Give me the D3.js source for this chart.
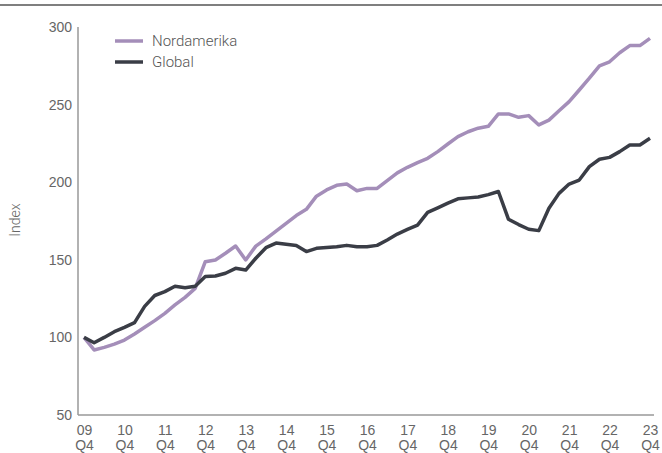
<!DOCTYPE html>
<html>
<head>
<meta charset="utf-8">
<script src="https://cdn.jsdelivr.net/npm/d3@7"></script>
<style>
  body { margin: 0; background: #fff; }
  svg { display: block; font-family: Roboto, "Noto Sans", sans-serif; }
  .axis text { fill: #666; font-size: 14px; font-weight: 300; }
  .axis path { stroke: #999; stroke-width: 1.5; }
</style>
</head>
<body>
<div id="chart"></div>
<script>
// quarterly index, 2009 Q4 = 100
var years = ["09","10","11","12","13","14","15","16","17","18","19","20","21","22","23"];
var yTicks = [50, 100, 150, 200, 250, 300];

var nordamerika = [100, 91.9, 93.6, 95.7, 98.3, 102.2, 106.5, 110.8, 115.5, 120.9,
  125.8, 131.6, 148.8, 149.9, 154.2, 158.9, 149.9, 158.8, 163.5, 168.5,
  173.5, 178.5, 182.5, 191, 195, 198, 198.8, 194.5, 196, 196,
  201, 206, 209.6, 212.6, 215.4, 219.7, 224.6, 229.4, 232.5, 234.8,
  236, 244, 244, 241.8, 242.9, 236.9, 240, 246, 251.9, 259.4,
  267, 275, 277.6, 283.4, 288, 288, 292.7];

var global = [100, 96.6, 100, 103.7, 106.5, 109.5, 120, 127, 129.5, 133,
  132, 133, 139.2, 139.6, 141.3, 144.5, 143.4, 151, 157.8, 160.8,
  160, 159.2, 155.3, 157.4, 158, 158.4, 159.3, 158.4, 158.4, 159.3,
  162.8, 166.6, 169.6, 172.4, 180.5, 183.5, 186.5, 189.3, 189.9, 190.5,
  192, 194, 176.1, 172.7, 169.7, 168.8, 183.2, 192.8, 198.8, 201.4,
  210, 214.8, 216, 219.7, 224, 224, 228.3];

var series = [
  {name: "Nordamerika", values: nordamerika, color: "#a48eb9"},
  {name: "Global", values: global, color: "#3a3d46"}
];

var width = 662, height = 453;

var svg = d3.select("#chart").append("svg")
  .attr("width", width)
  .attr("height", height);

// top rule
svg.append("line")
  .attr("x1", 0).attr("x2", width)
  .attr("y1", 5).attr("y2", 5)
  .style("stroke", "#555")
  .style("stroke-width", 1.5);

var x = d3.scaleLinear().domain([0, nordamerika.length - 1]).range([84, 650]);
var y = d3.scaleLinear().domain([50, 300]).range([415, 27]);

// y axis
var yAxis = svg.append("g")
  .attr("class", "axis")
  .attr("transform", "translate(78,0)")
  .call(d3.axisLeft(y).tickValues(yTicks).tickSize(0).tickPadding(6));
yAxis.select(".domain").attr("d", "M0," + y(300) + "V" + y(50));

// x axis
var xAxis = svg.append("g")
  .attr("class", "axis")
  .attr("transform", "translate(0,415)")
  .call(d3.axisBottom(x).tickValues(d3.range(0, 57, 4)).tickSize(0).tickFormat(""));
xAxis.select(".domain").attr("d", "M78,0H654");

xAxis.selectAll(".tick text").remove();
xAxis.selectAll(".tick").append("text")
  .attr("text-anchor", "middle")
  .each(function(d, i) {
    var t = d3.select(this);
    t.append("tspan").attr("x", 0).attr("y", 20).text(years[i]);
    t.append("tspan").attr("x", 0).attr("y", 35).text("Q4");
  });

svg.append("text")
  .attr("transform", "translate(20,220) rotate(-90)")
  .attr("text-anchor", "middle")
  .style("fill", "#666")
  .style("font-size", "14px")
  .style("font-weight", 300)
  .text("Index");

var line = d3.line()
  .x(function(d, i) { return x(i); })
  .y(function(d) { return y(d); });

svg.selectAll(".series")
  .data(series)
  .enter()
  .append("path")
  .attr("class", "series")
  .attr("d", function(d) { return line(d.values); })
  .style("fill", "none")
  .style("stroke", function(d) { return d.color; })
  .style("stroke-width", 3.5)
  .style("stroke-linejoin", "round");

// legend
var legend = svg.selectAll(".legend")
  .data(series)
  .enter()
  .append("g")
  .attr("class", "legend")
  .attr("transform", function(d, i) { return "translate(115," + (41 + i * 21) + ")"; });

legend.append("line")
  .attr("x1", 0).attr("x2", 28)
  .style("stroke", function(d) { return d.color; })
  .style("stroke-width", 3.5);

legend.append("text")
  .attr("x", 37)
  .attr("dy", "0.35em")
  .style("fill", "#555")
  .style("font-size", "15px")
  .style("font-weight", 300)
  .text(function(d) { return d.name; });
</script>
</body>
</html>
